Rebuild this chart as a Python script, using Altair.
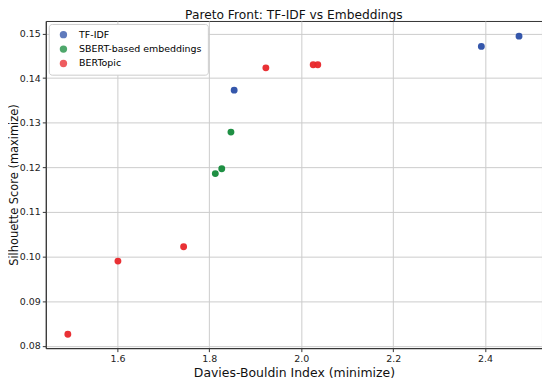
import altair as alt
import pandas as pd

methods = ["TF-IDF"] * 3 + ["SBERT-based embeddings"] * 3 + ["BERTopic"] * 6
db_index = [1.854, 2.392, 2.474, 1.813, 1.827, 1.847, 1.492, 1.601, 1.744, 1.923, 2.026, 2.036]
silhouette = [0.1373, 0.1471, 0.1494, 0.1186, 0.1197, 0.1279, 0.0826, 0.0990, 0.1022, 0.1423, 0.1430, 0.1430]

categories = ["TF-IDF", "SBERT-based embeddings", "BERTopic"]
colors = ["#2a4ea6", "#138a3a", "#e8262a"]
x_ticks = [1.6, 1.8, 2.0, 2.2, 2.4]
y_ticks = [0.08, 0.09, 0.10, 0.11, 0.12, 0.13, 0.14, 0.15]

df = pd.DataFrame({"method": methods, "db": db_index, "sil": silhouette})

font = "DejaVu Sans"

chart = alt.Chart(df).mark_circle(size=48, opacity=0.95).encode(
    x=alt.X("db:Q", title="Davies-Bouldin Index (minimize)",
            scale=alt.Scale(domain=[1.444, 2.524], nice=False, zero=False),
            axis=alt.Axis(values=x_ticks, format=".1f", labelFontSize=9.5, titleFontSize=12.5,
                          titlePadding=4, tickSize=3.5, labelPadding=2)),
    y=alt.Y("sil:Q", title="Silhouette Score (maximize)",
            scale=alt.Scale(domain=[0.0795, 0.1528], nice=False, zero=False),
            axis=alt.Axis(values=y_ticks, format=".2f", labelFontSize=9.5, titleFontSize=11.5,
                          titlePadding=0, tickSize=3.5, labelPadding=2)),
    color=alt.Color("method:N", scale=alt.Scale(domain=categories, range=colors),
                    legend=alt.Legend(title=None, orient="none", legendX=3, legendY=3,
                                      fillColor="white", strokeColor="#cccccc", padding=6,
                                      labelFontSize=9.5, symbolSize=55, rowPadding=3.5,
                                      symbolOffset=4, labelOffset=11,
                                      cornerRadius=3, symbolOpacity=0.75, labelFont=font)),
).properties(
    width=499, height=329,
    title=alt.TitleParams("Pareto Front: TF-IDF vs Embeddings", fontSize=12.3, font=font,
                          fontWeight="normal", color="#111", offset=0),
    autosize=alt.AutoSizeParams(type="none"),
    padding={"left": 38, "top": 12, "right": 0, "bottom": 32},
).configure_axis(
    labelFont=font, titleFont=font, titleFontWeight="normal", labelColor="#222", titleColor="#111",
    gridColor="#cccccc", gridWidth=1, domainColor="#333", tickColor="#333",
).configure_view(stroke="#333", strokeWidth=1)

chart.save("out.html", embed_options={"renderer": "svg", "actions": False})
